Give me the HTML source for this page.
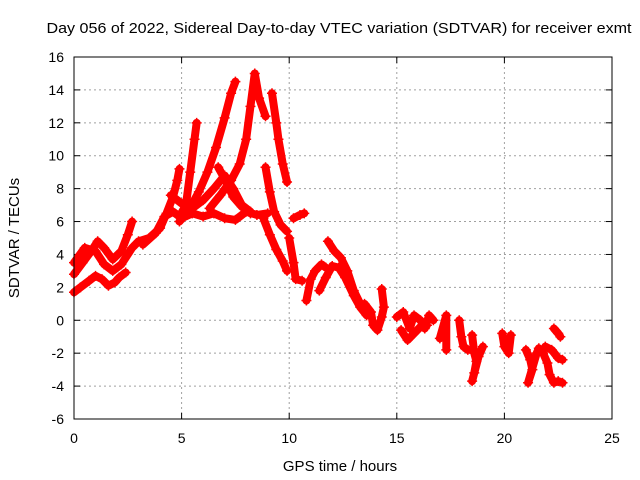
<!DOCTYPE html>
<html><head><meta charset="utf-8"><style>
body{margin:0;background:#fff}
svg{display:block;font-family:"Liberation Sans",sans-serif}
</style></head><body>
<svg id="c" width="640" height="480" viewBox="0 0 640 480" xmlns="http://www.w3.org/2000/svg">
<rect width="640" height="480" fill="#fff"/>
<text x="339" y="33" font-size="15" textLength="585" lengthAdjust="spacingAndGlyphs" text-anchor="middle">Day 056 of 2022, Sidereal Day-to-day VTEC variation (SDTVAR) for receiver exmt</text>
<text x="340" y="471" font-size="15" text-anchor="middle">GPS time / hours</text>
<text transform="translate(19,238) rotate(-90)" font-size="15" text-anchor="middle">SDTVAR / TECUs</text>
<g id="grid"></g><g id="ticks"></g><g id="marks"></g>
<rect x="74" y="57" width="538" height="362" fill="none" stroke="#000" stroke-width="1"/>
</svg>
<script>
const xTicks=[0,5,10,15,20,25];
const yTicks=[-6,-4,-2,0,2,4,6,8,10,12,14,16];
const tracks=[
[[0,1.7],[0.3,2.0],[0.7,2.4],[1.0,2.7],[1.3,2.5],[1.6,2.1],[1.9,2.3],[2.1,2.6],[2.4,2.9]],
[[0,2.8],[0.4,3.5],[0.8,4.2],[1.1,4.8],[1.4,4.4],[1.8,3.7],[2.2,4.2],[2.5,5.2],[2.7,6.0]],
[[0,3.5],[0.5,4.4],[1.0,4.2],[1.4,3.4],[1.8,3.0],[2.2,3.4],[2.7,4.4],[3.0,4.8],[3.5,5.0],[4.0,5.6],[4.3,6.5],[4.6,7.5],[4.8,8.5],[4.9,9.2]],
[[3.2,4.6],[3.8,5.3],[4.2,6.3],[4.6,6.6],[4.9,6.3],[5.2,7.0],[5.4,9.0],[5.6,11.0],[5.7,12.0]],
[[4.9,6.0],[5.3,6.6],[5.8,7.8],[6.2,9.0],[6.6,10.5],[7.0,12.3],[7.3,13.8],[7.5,14.5]],
[[5.0,6.2],[5.5,6.5],[6.0,6.3],[6.5,6.5],[7.0,6.2],[7.5,6.1],[8.0,6.6],[8.5,6.4],[9.0,6.5]],
[[4.5,7.6],[5.0,7.1],[5.5,6.8],[6.0,7.3],[6.5,8.0],[7.0,8.8],[7.4,8.0],[7.8,7.0],[8.2,6.6]],
[[6.7,9.3],[7.0,8.6],[7.4,7.5],[7.8,6.9],[8.2,6.5]],
[[6.3,6.8],[6.8,7.6],[7.3,8.5],[7.7,9.5],[8.0,11.0],[8.2,13.0],[8.4,15.0],[8.6,13.5],[8.9,12.4]],
[[9.2,13.8],[9.4,12.0],[9.5,11.0],[9.7,9.5],[9.9,8.4]],
[[8.9,9.3],[9.1,7.8],[9.3,6.6],[9.6,5.8],[9.9,5.4]],
[[8.8,6.2],[9.1,5.2],[9.4,4.3],[9.7,3.6],[9.9,3.0]],
[[10.0,5.0],[10.2,3.5],[10.3,2.5],[10.6,2.4]],
[[10.2,6.2],[10.5,6.4],[10.7,6.5]],
[[10.8,1.2],[11.0,2.5],[11.2,3.0],[11.5,3.4],[11.7,3.2]],
[[11.4,1.8],[11.7,2.6],[12.0,3.3],[12.3,3.2],[12.6,2.6],[13.0,1.5],[13.3,0.8],[13.6,0.3]],
[[11.8,4.8],[12.1,4.2],[12.4,3.8],[12.7,3.0],[13.0,1.8],[13.3,1.0]],
[[13.5,1.0],[13.8,0.5],[13.9,-0.3],[14.1,-0.6],[14.3,0.2],[14.4,0.8],[14.3,1.9]],
[[15.0,0.2],[15.3,0.5],[15.6,-0.5],[15.8,0.3],[16.1,0.0],[16.3,-0.5],[16.5,0.3],[16.7,0.0]],
[[15.2,-0.6],[15.5,-1.2],[15.8,-0.8],[16.1,-0.4],[16.4,-0.3]],
[[17.0,-1.1],[17.3,0.3],[17.3,-1.8]],
[[17.9,0.0],[18.0,-1.0],[18.1,-1.6],[18.3,-1.8]],
[[18.5,-0.9],[18.6,-2.0],[18.7,-2.5],[18.6,-3.2],[18.5,-3.7],[18.8,-2.2],[19.0,-1.6]],
[[19.9,-0.8],[20.0,-1.6],[20.2,-2.0],[20.3,-0.9]],
[[21.0,-1.8],[21.2,-2.4],[21.3,-3.0],[21.1,-3.8],[21.5,-2.0],[21.6,-1.7]],
[[21.8,-2.0],[22.0,-2.6],[22.1,-3.3],[22.3,-3.8],[22.5,-3.7],[22.7,-3.8]],
[[21.9,-1.6],[22.2,-1.8],[22.5,-2.3],[22.7,-2.4]],
[[22.3,-0.5],[22.5,-0.8],[22.6,-1.0]]
];
const X0=74,X1=612,Y0=419,Y1=57;
const xs=t=>X0+(t-0)/25*(X1-X0);
const ys=v=>Y0-(v+6)/22*(Y0-Y1);
const NS='http://www.w3.org/2000/svg';
function mk(tag,attrs,parent){const e=document.createElementNS(NS,tag);for(const k in attrs)e.setAttribute(k,attrs[k]);parent.appendChild(e);return e;}
const grid=document.getElementById('grid'),tk=document.getElementById('ticks'),mg=document.getElementById('marks');
xTicks.forEach(t=>{const x=xs(t);
 if(t>0&&t<25){const g=mk('line',{x1:x,x2:x,y1:Y0,y2:Y1,stroke:'#a0a0a0','stroke-dasharray':'2,3'},grid);
 
 }
 mk('line',{x1:x,x2:x,y1:Y0,y2:Y0-6,stroke:'#000'},tk);mk('line',{x1:x,x2:x,y1:Y1,y2:Y1+6,stroke:'#000'},tk);
 const l=mk('text',{x:x,y:443,'font-size':14,'text-anchor':'middle'},tk);l.textContent=t;
 
 });
yTicks.forEach(v=>{const y=ys(v);
 if(v>-6&&v<16){const g=mk('line',{x1:X0,x2:X1,y1:y,y2:y,stroke:'#a0a0a0','stroke-dasharray':'2,3'},grid);
 
 }
 mk('line',{x1:X0,x2:X0+6,y1:y,y2:y,stroke:'#000'},tk);mk('line',{x1:X1,x2:X1-6,y1:y,y2:y,stroke:'#000'},tk);
 const l=mk('text',{x:64,y:y+5,'font-size':14,'text-anchor':'end'},tk);l.textContent=v;
 
 });
tracks.forEach(tr=>{
 const p=mk('polyline',{points:tr.map(d=>xs(d[0])+','+ys(d[1])).join(' '),fill:'none',stroke:'#f00','stroke-width':8,'stroke-linejoin':'round','stroke-linecap':'round'},mg);
 
 
 tr.forEach(d=>{const x=xs(d[0]),y=ys(d[1]);
  const m=mk('path',{d:`M${x-5},${y}H${x+5}M${x},${y-5}V${y+5}`,stroke:'#f00','stroke-width':1.5},mg);
  
  });
});
</script>
</body></html>
